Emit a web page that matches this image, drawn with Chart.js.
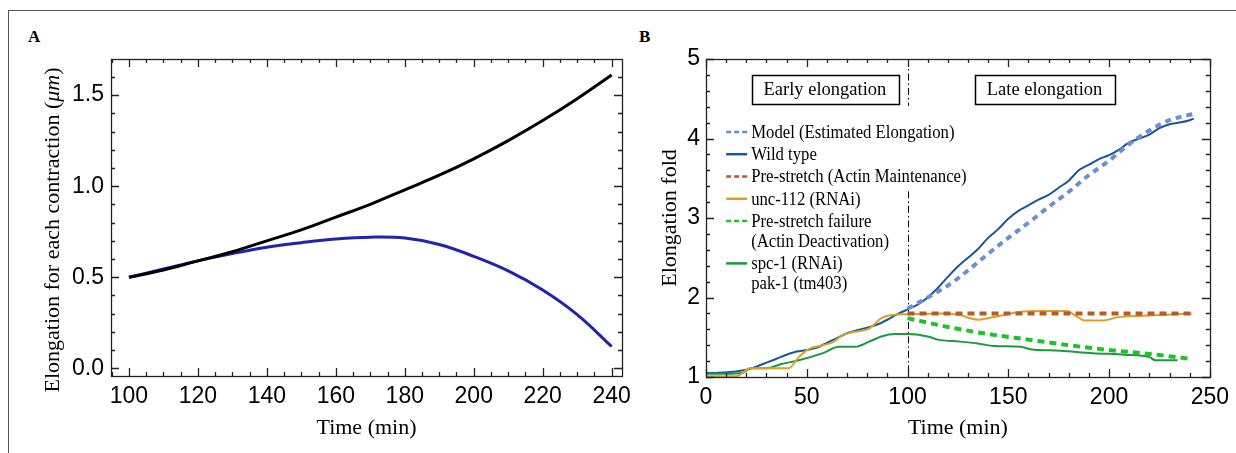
<!DOCTYPE html>
<html>
<head>
<meta charset="utf-8">
<script src="https://cdn.jsdelivr.net/npm/chart.js@4.4.1/dist/chart.umd.min.js"></script>
<style>
  html, body { margin: 0; padding: 0; background: #fff; }
  #page { position: relative; width: 1236px; height: 453px; overflow: hidden; }
  #border { position: absolute; left: 8px; top: 10px; width: 1240px; height: 460px;
            border-top: 1px solid #555; border-left: 1px solid #555; }
  .panel { position: absolute; top: 0; }
  .lbl { position: absolute; font: bold 17px "Liberation Serif", serif; color: #000; }
</style>
</head>
<body>
<div id="page">
  <div id="border"></div>
  <div class="lbl" style="left:28px;top:27px">A</div>
  <div class="lbl" style="left:639px;top:27px">B</div>
  <canvas id="chartA" class="panel" style="left:0" width="640" height="453"></canvas>
  <canvas id="chartB" class="panel" style="left:630px" width="606" height="453"></canvas>
</div>
<script>
// ---------- Panel A data ----------
const xTicksA = [100, 120, 140, 160, 180, 200, 220, 240];
const yTicksA = [0.0, 0.5, 1.0, 1.5];
const timeA = [100, 110, 120, 130, 140, 150, 160, 170, 180, 190, 200, 210, 220, 230, 240];
const elongBlack = [0.50, 0.54, 0.59, 0.64, 0.70, 0.76, 0.83, 0.90, 0.98, 1.06, 1.15, 1.25, 1.36, 1.48, 1.61];
const elongBlue = [0.50, 0.545, 0.59, 0.63, 0.665, 0.69, 0.71, 0.72, 0.715, 0.68, 0.615, 0.535, 0.43, 0.295, 0.12];

// ---------- Panel B data ----------
const xTicksB = [0, 50, 100, 150, 200, 250];
const yTicksB = [1, 2, 3, 4, 5];
const tWild = [0, 5, 10, 15, 20, 25, 30, 35, 40, 45, 50, 55, 60, 65, 70, 75, 80, 85, 90, 95,
  100, 105, 110, 115, 120, 125, 130, 135, 140, 145, 150, 155, 160, 165, 170, 175, 180, 185,
  190, 195, 200, 205, 210, 215, 220, 225, 230, 235, 240, 242];
const wildType = [1.05, 1.05, 1.06, 1.07, 1.09, 1.13, 1.18, 1.23, 1.28, 1.32, 1.34, 1.37, 1.43, 1.49, 1.55, 1.59, 1.62, 1.66, 1.72, 1.79,
  1.85, 1.91, 2.00, 2.12, 2.26, 2.39, 2.50, 2.61, 2.75, 2.86, 2.99, 3.09, 3.16, 3.23, 3.29, 3.38, 3.47, 3.60,
  3.67, 3.74, 3.79, 3.86, 3.95, 4.00, 4.05, 4.13, 4.18, 4.20, 4.23, 4.25];
const tModel = [100, 110, 120, 130, 140, 150, 160, 170, 180, 190, 200, 210, 220, 230, 242];
const model = [1.86, 2.00, 2.15, 2.34, 2.55, 2.75, 2.94, 3.14, 3.33, 3.54, 3.72, 3.93, 4.10, 4.23, 4.31];
const tPreStretch = [100, 242];
const preStretch = [1.80, 1.80];
const tUnc112 = [0, 15, 22, 41, 46, 51, 58, 63, 68, 74, 81, 87, 92, 100, 118, 126, 131, 135, 140, 148,
  156, 167, 179, 184, 188, 197, 204, 217, 226, 241];
const unc112 = [1.01, 1.01, 1.11, 1.11, 1.25, 1.35, 1.40, 1.44, 1.53, 1.57, 1.61, 1.74, 1.78, 1.79, 1.80, 1.78, 1.74, 1.72, 1.74, 1.78,
  1.82, 1.83, 1.83, 1.76, 1.71, 1.71, 1.75, 1.77, 1.78, 1.80];
const tFailure = [100, 120, 140, 160, 180, 200, 220, 240];
const failure = [1.74, 1.63, 1.54, 1.47, 1.40, 1.34, 1.29, 1.23];
const tSpc1 = [0, 10, 18, 22, 30, 37, 46, 58, 66, 74, 81, 87, 94, 100, 110, 115, 126, 135, 143, 156,
  161, 176, 192, 208, 220, 223, 234];
const spc1 = [1.04, 1.04, 1.05, 1.11, 1.11, 1.16, 1.21, 1.30, 1.38, 1.38, 1.445, 1.51, 1.54, 1.54, 1.51, 1.47, 1.445, 1.42, 1.39, 1.38,
  1.35, 1.33, 1.30, 1.28, 1.25, 1.21, 1.21];

const phaseSplit = 100;           // dash-dot line
const legendGap = [3.335, 4.41];  // part of the dash-dot line hidden by the legend
const phaseLabels = ['Early elongation', 'Late elongation'];
const phaseLabelX = [59, 168];
const phaseLabelY = 4.616;

const COL = {
  model: '#6b8fcf', wild: '#1b5797', pre: '#b85a24', unc: '#d8a22a',
  fail: '#1fc02a', spc: '#1a9a3e'
};

const legendItems = [
  { lines: ['Model (Estimated Elongation)'], color: COL.model, dash: [5, 3] },
  { lines: ['Wild type'], color: COL.wild, dash: [] },
  { lines: ['Pre-stretch (Actin Maintenance)'], color: COL.pre, dash: [5, 3] },
  { lines: ['unc-112 (RNAi)'], color: COL.unc, dash: [] },
  { lines: ['Pre-stretch failure', '(Actin Deactivation)'], color: COL.fail, dash: [5, 3] },
  { lines: ['spc-1 (RNAi)', 'pak-1 (tm403)'], color: COL.spc, dash: [] }
];

const pts = (ts, vs) => ts.map((t, i) => ({ x: t, y: vs[i] }));
const SANS = 'Liberation Sans';
const SERIF = 'Liberation Serif';

// --- frame with inward ticks on all four sides ---
function makeFrame(o) {
  return {
    id: 'frame',
    afterDatasetsDraw(chart) {
      const { ctx, chartArea: a, scales: { x, y } } = chart;
      ctx.save();
      ctx.strokeStyle = '#222';
      ctx.lineWidth = 1.3;
      ctx.setLineDash([]);
      ctx.beginPath();
      const nx = Math.round((o.xTo - o.xFrom) / o.xStep);
      for (let i = 0; i <= nx; i++) {
        const v = o.xFrom + i * o.xStep;
        const px = Math.round(x.getPixelForValue(v)) + 0.5;
        const len = o.xMajor.some(m => Math.abs(m - v) < 1e-6) ? 8 : 4;
        ctx.moveTo(px, a.bottom); ctx.lineTo(px, a.bottom - len);
        ctx.moveTo(px, a.top); ctx.lineTo(px, a.top + len);
      }
      const ny = Math.round((o.yTo - o.yFrom) / o.yStep);
      for (let i = 0; i <= ny; i++) {
        const v = o.yFrom + i * o.yStep;
        const py = Math.round(y.getPixelForValue(v)) + 0.5;
        const len = o.yMajor.some(m => Math.abs(m - v) < 1e-6) ? 8 : 4;
        ctx.moveTo(a.left, py); ctx.lineTo(a.left + len, py);
        ctx.moveTo(a.right, py); ctx.lineTo(a.right - len, py);
      }
      ctx.stroke();
      ctx.strokeRect(Math.round(a.left) + 0.5, Math.round(a.top) + 0.5, Math.round(a.width), Math.round(a.height));
      ctx.restore();
    }
  };
}

// =============================================
// Panel A
// =============================================
const yTitleA = {
  id: 'yTitleA',
  afterDraw(chart) {
    const ctx = chart.ctx;
    const parts = [
      ['Elongation for each contraction (', 'normal'],
      ['\u03bcm', 'italic'],
      [')', 'normal']
    ];
    ctx.save();
    ctx.translate(53, 230);
    ctx.rotate(-Math.PI / 2);
    ctx.fillStyle = '#000';
    ctx.textBaseline = 'middle';
    let total = 0;
    parts.forEach(p => { ctx.font = `${p[1]} 22px "${SERIF}"`; total += ctx.measureText(p[0]).width; });
    let cx = -total / 2;
    parts.forEach(p => {
      ctx.font = `${p[1]} 22px "${SERIF}"`;
      ctx.fillText(p[0], cx, 0);
      cx += ctx.measureText(p[0]).width;
    });
    ctx.restore();
  }
};

new Chart(document.getElementById('chartA'), {
  type: 'line',
  data: {
    datasets: [
      { data: pts(timeA, elongBlack), borderColor: '#000', borderWidth: 3 },
      { data: pts(timeA, elongBlue), borderColor: '#2222b0', borderWidth: 3 }
    ]
  },
  options: {
    responsive: false,
    animation: false,
    events: [],
    layout: { padding: { left: 0, top: 59, right: 18, bottom: 0 } },
    elements: { point: { radius: 0 }, line: { tension: 0.4 } },
    plugins: { legend: { display: false }, tooltip: { enabled: false } },
    scales: {
      x: {
        type: 'linear', min: 94.8, max: 243,
        afterBuildTicks: s => { s.ticks = xTicksA.map(v => ({ value: v })); },
        afterFit: s => { s.height = 77; },
        grid: { display: false, drawTicks: false },
        border: { display: false },
        ticks: { font: { family: SANS, size: 23 }, color: '#000', padding: 7, maxRotation: 0, autoSkip: false },
        title: { display: true, text: 'Time (min)', color: '#000', font: { family: SERIF, size: 22 }, padding: { top: 0, bottom: 12 } }
      },
      y: {
        type: 'linear', min: -0.042, max: 1.698,
        afterBuildTicks: s => { s.ticks = yTicksA.map(v => ({ value: v })); },
        afterFit: s => { s.width = 111; },
        grid: { display: false, drawTicks: false },
        border: { display: false },
        ticks: { font: { family: SANS, size: 23 }, color: '#000', padding: 7, callback: v => v.toFixed(1) }
      }
    }
  },
  plugins: [
    makeFrame({ xFrom: 95, xTo: 240, xStep: 5, xMajor: xTicksA, yFrom: 0, yTo: 1.6, yStep: 0.1, yMajor: yTicksA }),
    yTitleA
  ]
});

// =============================================
// Panel B
// =============================================
const annotPlugin = {
  id: 'annot',
  beforeDatasetsDraw(chart) {
    const { ctx, chartArea: a, scales: { x, y } } = chart;
    const px = Math.round(x.getPixelForValue(phaseSplit)) + 0.5;
    ctx.save();
    ctx.strokeStyle = '#000';
    ctx.lineWidth = 1;
    ctx.setLineDash([7, 3, 1.5, 3]);
    ctx.beginPath();
    ctx.moveTo(px, a.top); ctx.lineTo(px, y.getPixelForValue(legendGap[1]));
    ctx.stroke();
    ctx.beginPath();
    ctx.moveTo(px, y.getPixelForValue(legendGap[0])); ctx.lineTo(px, a.bottom);
    ctx.stroke();
    ctx.restore();
  },
  afterDatasetsDraw(chart) {
    const { ctx, scales: { x, y } } = chart;
    ctx.save();
    // phase boxes
    ctx.font = `18.5px "${SERIF}"`;
    ctx.textAlign = 'center';
    ctx.textBaseline = 'middle';
    ctx.fillStyle = '#000';
    ctx.strokeStyle = '#000';
    ctx.lineWidth = 1.5;
    const cy = y.getPixelForValue(phaseLabelY);
    phaseLabels.forEach((t, i) => {
      const cx = x.getPixelForValue(phaseLabelX[i]);
      const w = ctx.measureText(t).width + 24;
      ctx.strokeRect(Math.round(cx - w / 2) + 0.5, Math.round(cy - 14.5) + 0.5, Math.round(w), 29);
      ctx.fillText(t, cx, cy + 1);
    });
    // legend
    const lx = x.getPixelForValue(10);
    let ly = y.getPixelForValue(4.083);
    ctx.textAlign = 'left';
    ctx.font = `19px "${SERIF}"`;
    legendItems.forEach(it => {
      ctx.strokeStyle = it.color;
      ctx.lineWidth = 2.5;
      ctx.setLineDash(it.dash);
      ctx.beginPath();
      ctx.moveTo(lx, ly); ctx.lineTo(lx + 21, ly);
      ctx.stroke();
      ctx.setLineDash([]);
      it.lines.forEach((ln, j) => {
        ctx.save();
        ctx.translate(lx + 25, ly + 1 + j * 20);
        ctx.scale(0.88, 1);
        ctx.fillText(ln, 0, 0);
        ctx.restore();
      });
      ly += 22.3 + (it.lines.length - 1) * 20;
    });
    ctx.restore();
  }
};

new Chart(document.getElementById('chartB'), {
  type: 'line',
  data: {
    datasets: [
      { data: pts(tPreStretch, preStretch), borderColor: COL.pre, borderWidth: 4, borderDash: [7, 5] },
      { data: pts(tFailure, failure), borderColor: COL.fail, borderWidth: 4, borderDash: [7, 5] },
      { data: pts(tModel, model), borderColor: COL.model, borderWidth: 4, borderDash: [6, 5] },
      { data: pts(tUnc112, unc112), borderColor: COL.unc, borderWidth: 2 },
      { data: pts(tSpc1, spc1), borderColor: COL.spc, borderWidth: 2 },
      { data: pts(tWild, wildType), borderColor: COL.wild, borderWidth: 2 }
    ]
  },
  options: {
    responsive: false,
    animation: false,
    events: [],
    layout: { padding: { left: 0, top: 59, right: 22, bottom: 0 } },
    elements: { point: { radius: 0 }, line: { cubicInterpolationMode: 'monotone' } },
    plugins: { legend: { display: false }, tooltip: { enabled: false } },
    scales: {
      x: {
        type: 'linear', min: 0, max: 250,
        afterBuildTicks: s => { s.ticks = xTicksB.map(v => ({ value: v })); },
        afterFit: s => { s.height = 76; },
        grid: { display: false, drawTicks: false },
        border: { display: false },
        ticks: { font: { family: SANS, size: 23 }, color: '#000', padding: 7, maxRotation: 0, autoSkip: false },
        title: { display: true, text: 'Time (min)', color: '#000', font: { family: SERIF, size: 22 }, padding: { top: 0, bottom: 12 } }
      },
      y: {
        type: 'linear', min: 1, max: 5,
        afterBuildTicks: s => { s.ticks = yTicksB.map(v => ({ value: v })); },
        afterFit: s => { s.width = 76; },
        grid: { display: false, drawTicks: false },
        border: { display: false },
        ticks: { font: { family: SANS, size: 23 }, color: '#000', padding: 6 },
        title: { display: true, text: 'Elongation fold', color: '#000', font: { family: SERIF, size: 22 }, padding: { top: 27, bottom: 0 } }
      }
    }
  },
  plugins: [
    makeFrame({ xFrom: 0, xTo: 250, xStep: 10, xMajor: xTicksB, yFrom: 1, yTo: 5, yStep: 0.2, yMajor: yTicksB }),
    annotPlugin
  ]
});
</script>
</body>
</html>
